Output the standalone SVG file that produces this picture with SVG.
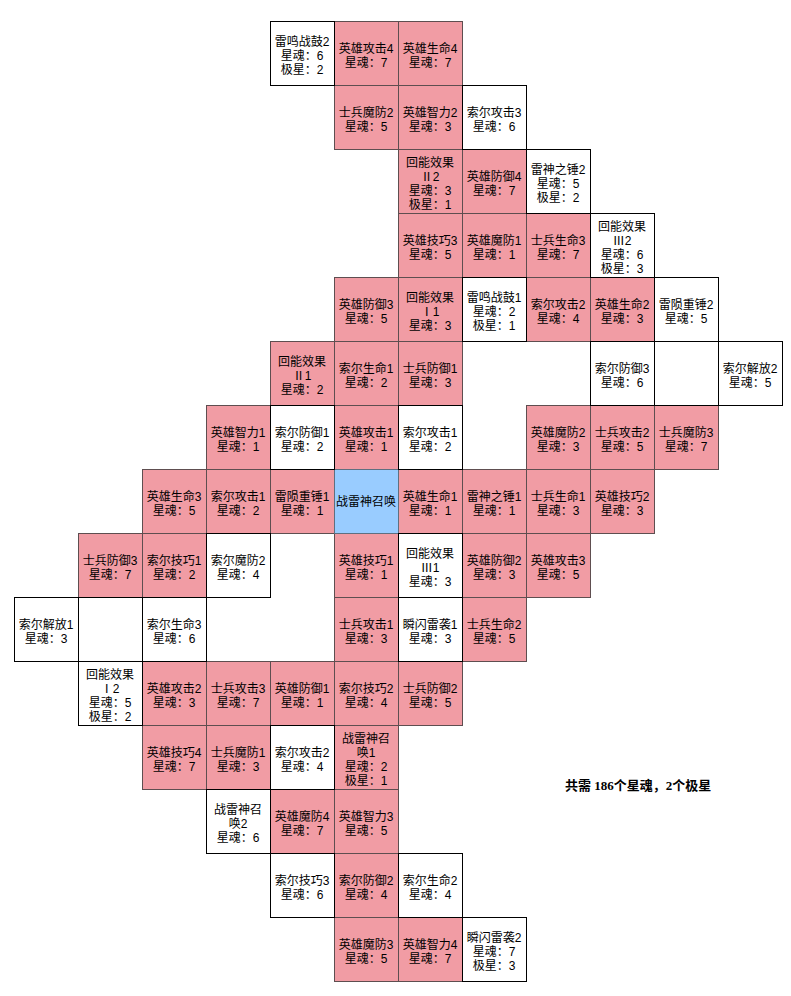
<svg xmlns="http://www.w3.org/2000/svg" width="791" height="996" viewBox="0 0 791 996">
<style>
.p{fill:#f19ca4;stroke:#5e4e50;stroke-width:1}
.w{fill:#ffffff;stroke:#000000;stroke-width:1}
.b{fill:#99ccff;stroke:#5f6f80;stroke-width:1}
text{font-family:"Liberation Sans","Noto Sans CJK SC",sans-serif;font-size:12px;fill:#000;text-anchor:middle}
.sum{font-family:"Liberation Serif","Noto Sans CJK SC",serif;font-size:13px;font-weight:bold;text-anchor:start}
</style>
<rect width="791" height="996" fill="#ffffff"/>
<g id="cells-pink">
<g id="n-5-0" transform="translate(334.5,21.5)"><rect class="p" width="64" height="64"/><text x="31.5" y="31">英雄攻击4<tspan x="31.5" dy="14">星魂：7</tspan></text></g>
<g id="n-6-0" transform="translate(398.5,21.5)"><rect class="p" width="64" height="64"/><text x="31.5" y="31">英雄生命4<tspan x="31.5" dy="14">星魂：7</tspan></text></g>
<g id="n-5-1" transform="translate(334.5,85.5)"><rect class="p" width="64" height="64"/><text x="31.5" y="31">士兵魔防2<tspan x="31.5" dy="14">星魂：5</tspan></text></g>
<g id="n-6-1" transform="translate(398.5,85.5)"><rect class="p" width="64" height="64"/><text x="31.5" y="31">英雄智力2<tspan x="31.5" dy="14">星魂：3</tspan></text></g>
<g id="n-6-2" transform="translate(398.5,149.5)"><rect class="p" width="64" height="64"/><text x="31.5" y="17">回能效果<tspan x="31.5" dy="14">Ⅱ2</tspan><tspan x="31.5" dy="14">星魂：3</tspan><tspan x="31.5" dy="14">极星：1</tspan></text></g>
<g id="n-7-2" transform="translate(462.5,149.5)"><rect class="p" width="64" height="64"/><text x="31.5" y="31">英雄防御4<tspan x="31.5" dy="14">星魂：7</tspan></text></g>
<g id="n-6-3" transform="translate(398.5,213.5)"><rect class="p" width="64" height="64"/><text x="31.5" y="31">英雄技巧3<tspan x="31.5" dy="14">星魂：5</tspan></text></g>
<g id="n-7-3" transform="translate(462.5,213.5)"><rect class="p" width="64" height="64"/><text x="31.5" y="31">英雄魔防1<tspan x="31.5" dy="14">星魂：1</tspan></text></g>
<g id="n-8-3" transform="translate(526.5,213.5)"><rect class="p" width="64" height="64"/><text x="31.5" y="31">士兵生命3<tspan x="31.5" dy="14">星魂：7</tspan></text></g>
<g id="n-5-4" transform="translate(334.5,277.5)"><rect class="p" width="64" height="64"/><text x="31.5" y="31">英雄防御3<tspan x="31.5" dy="14">星魂：5</tspan></text></g>
<g id="n-6-4" transform="translate(398.5,277.5)"><rect class="p" width="64" height="64"/><text x="31.5" y="24">回能效果<tspan x="31.5" dy="14">Ⅰ1</tspan><tspan x="31.5" dy="14">星魂：3</tspan></text></g>
<g id="n-8-4" transform="translate(526.5,277.5)"><rect class="p" width="64" height="64"/><text x="31.5" y="31">索尔攻击2<tspan x="31.5" dy="14">星魂：4</tspan></text></g>
<g id="n-9-4" transform="translate(590.5,277.5)"><rect class="p" width="64" height="64"/><text x="31.5" y="31">英雄生命2<tspan x="31.5" dy="14">星魂：3</tspan></text></g>
<g id="n-4-5" transform="translate(270.5,341.5)"><rect class="p" width="64" height="64"/><text x="31.5" y="24">回能效果<tspan x="31.5" dy="14">Ⅱ1</tspan><tspan x="31.5" dy="14">星魂：2</tspan></text></g>
<g id="n-5-5" transform="translate(334.5,341.5)"><rect class="p" width="64" height="64"/><text x="31.5" y="31">索尔生命1<tspan x="31.5" dy="14">星魂：2</tspan></text></g>
<g id="n-6-5" transform="translate(398.5,341.5)"><rect class="p" width="64" height="64"/><text x="31.5" y="31">士兵防御1<tspan x="31.5" dy="14">星魂：3</tspan></text></g>
<g id="n-3-6" transform="translate(206.5,405.5)"><rect class="p" width="64" height="64"/><text x="31.5" y="31">英雄智力1<tspan x="31.5" dy="14">星魂：1</tspan></text></g>
<g id="n-5-6" transform="translate(334.5,405.5)"><rect class="p" width="64" height="64"/><text x="31.5" y="31">英雄攻击1<tspan x="31.5" dy="14">星魂：1</tspan></text></g>
<g id="n-8-6" transform="translate(526.5,405.5)"><rect class="p" width="64" height="64"/><text x="31.5" y="31">英雄魔防2<tspan x="31.5" dy="14">星魂：3</tspan></text></g>
<g id="n-9-6" transform="translate(590.5,405.5)"><rect class="p" width="64" height="64"/><text x="31.5" y="31">士兵攻击2<tspan x="31.5" dy="14">星魂：5</tspan></text></g>
<g id="n-10-6" transform="translate(654.5,405.5)"><rect class="p" width="64" height="64"/><text x="31.5" y="31">士兵魔防3<tspan x="31.5" dy="14">星魂：7</tspan></text></g>
<g id="n-2-7" transform="translate(142.5,469.5)"><rect class="p" width="64" height="64"/><text x="31.5" y="31">英雄生命3<tspan x="31.5" dy="14">星魂：5</tspan></text></g>
<g id="n-3-7" transform="translate(206.5,469.5)"><rect class="p" width="64" height="64"/><text x="31.5" y="31">索尔攻击1<tspan x="31.5" dy="14">星魂：2</tspan></text></g>
<g id="n-4-7" transform="translate(270.5,469.5)"><rect class="p" width="64" height="64"/><text x="31.5" y="31">雷陨重锤1<tspan x="31.5" dy="14">星魂：1</tspan></text></g>
<g id="n-6-7" transform="translate(398.5,469.5)"><rect class="p" width="64" height="64"/><text x="31.5" y="31">英雄生命1<tspan x="31.5" dy="14">星魂：1</tspan></text></g>
<g id="n-7-7" transform="translate(462.5,469.5)"><rect class="p" width="64" height="64"/><text x="31.5" y="31">雷神之锤1<tspan x="31.5" dy="14">星魂：1</tspan></text></g>
<g id="n-8-7" transform="translate(526.5,469.5)"><rect class="p" width="64" height="64"/><text x="31.5" y="31">士兵生命1<tspan x="31.5" dy="14">星魂：3</tspan></text></g>
<g id="n-9-7" transform="translate(590.5,469.5)"><rect class="p" width="64" height="64"/><text x="31.5" y="31">英雄技巧2<tspan x="31.5" dy="14">星魂：3</tspan></text></g>
<g id="n-1-8" transform="translate(78.5,533.5)"><rect class="p" width="64" height="64"/><text x="31.5" y="31">士兵防御3<tspan x="31.5" dy="14">星魂：7</tspan></text></g>
<g id="n-2-8" transform="translate(142.5,533.5)"><rect class="p" width="64" height="64"/><text x="31.5" y="31">索尔技巧1<tspan x="31.5" dy="14">星魂：2</tspan></text></g>
<g id="n-5-8" transform="translate(334.5,533.5)"><rect class="p" width="64" height="64"/><text x="31.5" y="31">英雄技巧1<tspan x="31.5" dy="14">星魂：1</tspan></text></g>
<g id="n-7-8" transform="translate(462.5,533.5)"><rect class="p" width="64" height="64"/><text x="31.5" y="31">英雄防御2<tspan x="31.5" dy="14">星魂：3</tspan></text></g>
<g id="n-8-8" transform="translate(526.5,533.5)"><rect class="p" width="64" height="64"/><text x="31.5" y="31">英雄攻击3<tspan x="31.5" dy="14">星魂：5</tspan></text></g>
<g id="n-5-9" transform="translate(334.5,597.5)"><rect class="p" width="64" height="64"/><text x="31.5" y="31">士兵攻击1<tspan x="31.5" dy="14">星魂：3</tspan></text></g>
<g id="n-7-9" transform="translate(462.5,597.5)"><rect class="p" width="64" height="64"/><text x="31.5" y="31">士兵生命2<tspan x="31.5" dy="14">星魂：5</tspan></text></g>
<g id="n-2-10" transform="translate(142.5,661.5)"><rect class="p" width="64" height="64"/><text x="31.5" y="31">英雄攻击2<tspan x="31.5" dy="14">星魂：3</tspan></text></g>
<g id="n-3-10" transform="translate(206.5,661.5)"><rect class="p" width="64" height="64"/><text x="31.5" y="31">士兵攻击3<tspan x="31.5" dy="14">星魂：7</tspan></text></g>
<g id="n-4-10" transform="translate(270.5,661.5)"><rect class="p" width="64" height="64"/><text x="31.5" y="31">英雄防御1<tspan x="31.5" dy="14">星魂：1</tspan></text></g>
<g id="n-5-10" transform="translate(334.5,661.5)"><rect class="p" width="64" height="64"/><text x="31.5" y="31">索尔技巧2<tspan x="31.5" dy="14">星魂：4</tspan></text></g>
<g id="n-6-10" transform="translate(398.5,661.5)"><rect class="p" width="64" height="64"/><text x="31.5" y="31">士兵防御2<tspan x="31.5" dy="14">星魂：5</tspan></text></g>
<g id="n-2-11" transform="translate(142.5,725.5)"><rect class="p" width="64" height="64"/><text x="31.5" y="31">英雄技巧4<tspan x="31.5" dy="14">星魂：7</tspan></text></g>
<g id="n-3-11" transform="translate(206.5,725.5)"><rect class="p" width="64" height="64"/><text x="31.5" y="31">士兵魔防1<tspan x="31.5" dy="14">星魂：3</tspan></text></g>
<g id="n-5-11" transform="translate(334.5,725.5)"><rect class="p" width="64" height="64"/><text x="31.5" y="17">战雷神召<tspan x="31.5" dy="14">唤1</tspan><tspan x="31.5" dy="14">星魂：2</tspan><tspan x="31.5" dy="14">极星：1</tspan></text></g>
<g id="n-4-12" transform="translate(270.5,789.5)"><rect class="p" width="64" height="64"/><text x="31.5" y="31">英雄魔防4<tspan x="31.5" dy="14">星魂：7</tspan></text></g>
<g id="n-5-12" transform="translate(334.5,789.5)"><rect class="p" width="64" height="64"/><text x="31.5" y="31">英雄智力3<tspan x="31.5" dy="14">星魂：5</tspan></text></g>
<g id="n-5-13" transform="translate(334.5,853.5)"><rect class="p" width="64" height="64"/><text x="31.5" y="31">索尔防御2<tspan x="31.5" dy="14">星魂：4</tspan></text></g>
<g id="n-5-14" transform="translate(334.5,917.5)"><rect class="p" width="64" height="64"/><text x="31.5" y="31">英雄魔防3<tspan x="31.5" dy="14">星魂：5</tspan></text></g>
<g id="n-6-14" transform="translate(398.5,917.5)"><rect class="p" width="64" height="64"/><text x="31.5" y="31">英雄智力4<tspan x="31.5" dy="14">星魂：7</tspan></text></g>
</g>
<g id="cells-center">
<g id="n-5-7" transform="translate(334.5,469.5)"><rect class="b" width="64" height="64"/><text x="31.5" y="36.5">战雷神召唤</text></g>
</g>
<g id="cells-white">
<g id="n-4-0" transform="translate(270.5,21.5)"><rect class="w" width="64" height="64"/><text x="31.5" y="24">雷鸣战鼓2<tspan x="31.5" dy="14">星魂：6</tspan><tspan x="31.5" dy="14">极星：2</tspan></text></g>
<g id="n-7-1" transform="translate(462.5,85.5)"><rect class="w" width="64" height="64"/><text x="31.5" y="31">索尔攻击3<tspan x="31.5" dy="14">星魂：6</tspan></text></g>
<g id="n-8-2" transform="translate(526.5,149.5)"><rect class="w" width="64" height="64"/><text x="31.5" y="24">雷神之锤2<tspan x="31.5" dy="14">星魂：5</tspan><tspan x="31.5" dy="14">极星：2</tspan></text></g>
<g id="n-9-3" transform="translate(590.5,213.5)"><rect class="w" width="64" height="64"/><text x="31.5" y="17">回能效果<tspan x="31.5" dy="14">Ⅲ2</tspan><tspan x="31.5" dy="14">星魂：6</tspan><tspan x="31.5" dy="14">极星：3</tspan></text></g>
<g id="n-7-4" transform="translate(462.5,277.5)"><rect class="w" width="64" height="64"/><text x="31.5" y="24">雷鸣战鼓1<tspan x="31.5" dy="14">星魂：2</tspan><tspan x="31.5" dy="14">极星：1</tspan></text></g>
<g id="n-10-4" transform="translate(654.5,277.5)"><rect class="w" width="64" height="64"/><text x="31.5" y="31">雷陨重锤2<tspan x="31.5" dy="14">星魂：5</tspan></text></g>
<g id="n-9-5" transform="translate(590.5,341.5)"><rect class="w" width="64" height="64"/><text x="31.5" y="31">索尔防御3<tspan x="31.5" dy="14">星魂：6</tspan></text></g>
<g id="n-10-5" transform="translate(654.5,341.5)"><rect class="w" width="64" height="64"/></g>
<g id="n-11-5" transform="translate(718.5,341.5)"><rect class="w" width="64" height="64"/><text x="31.5" y="31">索尔解放2<tspan x="31.5" dy="14">星魂：5</tspan></text></g>
<g id="n-4-6" transform="translate(270.5,405.5)"><rect class="w" width="64" height="64"/><text x="31.5" y="31">索尔防御1<tspan x="31.5" dy="14">星魂：2</tspan></text></g>
<g id="n-6-6" transform="translate(398.5,405.5)"><rect class="w" width="64" height="64"/><text x="31.5" y="31">索尔攻击1<tspan x="31.5" dy="14">星魂：2</tspan></text></g>
<g id="n-3-8" transform="translate(206.5,533.5)"><rect class="w" width="64" height="64"/><text x="31.5" y="31">索尔魔防2<tspan x="31.5" dy="14">星魂：4</tspan></text></g>
<g id="n-6-8" transform="translate(398.5,533.5)"><rect class="w" width="64" height="64"/><text x="31.5" y="24">回能效果<tspan x="31.5" dy="14">Ⅲ1</tspan><tspan x="31.5" dy="14">星魂：3</tspan></text></g>
<g id="n-0-9" transform="translate(14.5,597.5)"><rect class="w" width="64" height="64"/><text x="31.5" y="31">索尔解放1<tspan x="31.5" dy="14">星魂：3</tspan></text></g>
<g id="n-1-9" transform="translate(78.5,597.5)"><rect class="w" width="64" height="64"/></g>
<g id="n-2-9" transform="translate(142.5,597.5)"><rect class="w" width="64" height="64"/><text x="31.5" y="31">索尔生命3<tspan x="31.5" dy="14">星魂：6</tspan></text></g>
<g id="n-6-9" transform="translate(398.5,597.5)"><rect class="w" width="64" height="64"/><text x="31.5" y="31">瞬闪雷袭1<tspan x="31.5" dy="14">星魂：3</tspan></text></g>
<g id="n-1-10" transform="translate(78.5,661.5)"><rect class="w" width="64" height="64"/><text x="31.5" y="17">回能效果<tspan x="31.5" dy="14">Ⅰ2</tspan><tspan x="31.5" dy="14">星魂：5</tspan><tspan x="31.5" dy="14">极星：2</tspan></text></g>
<g id="n-4-11" transform="translate(270.5,725.5)"><rect class="w" width="64" height="64"/><text x="31.5" y="31">索尔攻击2<tspan x="31.5" dy="14">星魂：4</tspan></text></g>
<g id="n-3-12" transform="translate(206.5,789.5)"><rect class="w" width="64" height="64"/><text x="31.5" y="24">战雷神召<tspan x="31.5" dy="14">唤2</tspan><tspan x="31.5" dy="14">星魂：6</tspan></text></g>
<g id="n-4-13" transform="translate(270.5,853.5)"><rect class="w" width="64" height="64"/><text x="31.5" y="31">索尔技巧3<tspan x="31.5" dy="14">星魂：6</tspan></text></g>
<g id="n-6-13" transform="translate(398.5,853.5)"><rect class="w" width="64" height="64"/><text x="31.5" y="31">索尔生命2<tspan x="31.5" dy="14">星魂：4</tspan></text></g>
<g id="n-7-14" transform="translate(462.5,917.5)"><rect class="w" width="64" height="64"/><text x="31.5" y="24">瞬闪雷袭2<tspan x="31.5" dy="14">星魂：7</tspan><tspan x="31.5" dy="14">极星：3</tspan></text></g>
</g>
<g id="summary"><text class="sum" x="565" y="790">共需 186个星魂，2个极星</text></g>
</svg>
